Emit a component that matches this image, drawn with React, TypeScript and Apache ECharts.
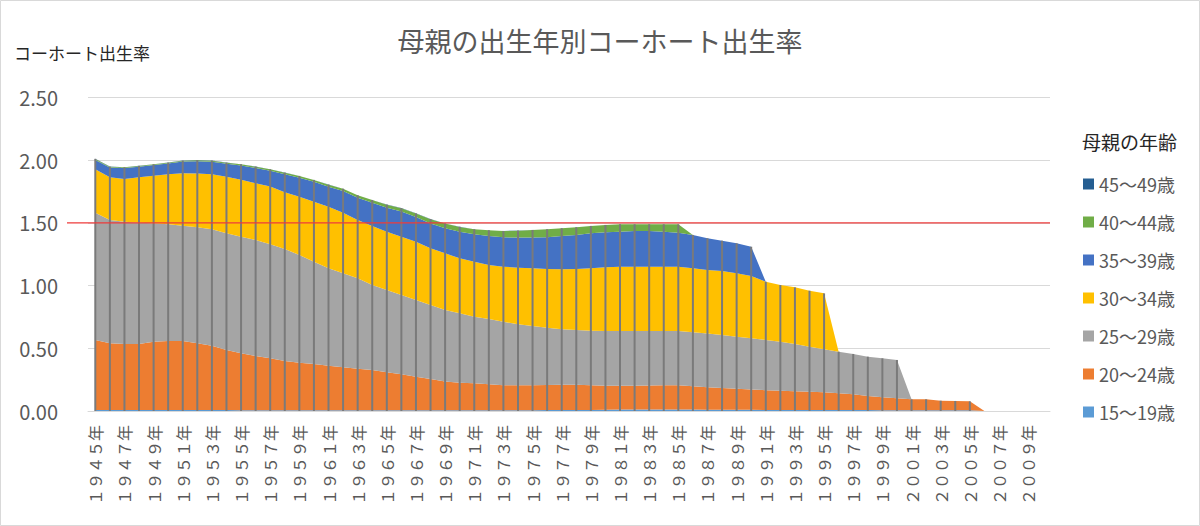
import React, { useEffect, useRef } from 'react';
import * as echarts from 'echarts';

const years = [
  '１９４５年', '１９４６年', '１９４７年', '１９４８年', '１９４９年', '１９５０年', '１９５１年', '１９５２年', '１９５３年', '１９５４年',
  '１９５５年', '１９５６年', '１９５７年', '１９５８年', '１９５９年', '１９６０年', '１９６１年', '１９６２年', '１９６３年', '１９６４年',
  '１９６５年', '１９６６年', '１９６７年', '１９６８年', '１９６９年', '１９７０年', '１９７１年', '１９７２年', '１９７３年', '１９７４年',
  '１９７５年', '１９７６年', '１９７７年', '１９７８年', '１９７９年', '１９８０年', '１９８１年', '１９８２年', '１９８３年', '１９８４年',
  '１９８５年', '１９８６年', '１９８７年', '１９８８年', '１９８９年', '１９９０年', '１９９１年', '１９９２年', '１９９３年', '１９９４年',
  '１９９５年', '１９９６年', '１９９７年', '１９９８年', '１９９９年', '２０００年', '２００１年', '２００２年', '２００３年', '２００４年',
  '２００５年', '２００６年', '２００７年', '２００８年', '２００９年', '２０１０年',
];

const age15_19 = [
  0.008, 0.008, 0.008, 0.008, 0.008, 0.008, 0.008, 0.007, 0.007, 0.007,
  0.006, 0.006, 0.006, 0.005, 0.005, 0.005, 0.005, 0.005, 0.005, 0.005,
  0.005, 0.005, 0.005, 0.005, 0.005, 0.005, 0.005, 0.005, 0.006, 0.006,
  0.006, 0.007, 0.008, 0.008, 0.008, 0.009, 0.012, 0.012, 0.012, 0.012,
  0.012, 0.011, 0.010, 0.010, 0.009, 0.009, 0.008, 0.008, 0.008, 0.008,
  0.008, 0.007, 0.007, 0.007, 0.006, 0.006, 0.005, 0.005, 0.005, 0.005,
  0.005, 0, null, null, null, null,
];

const age20_24 = [
  0.558, 0.532, 0.526, 0.526, 0.545, 0.550, 0.550, 0.533, 0.514, 0.479,
  0.454, 0.433, 0.414, 0.394, 0.380, 0.370, 0.356, 0.343, 0.332, 0.322,
  0.304, 0.288, 0.269, 0.250, 0.231, 0.221, 0.216, 0.208, 0.199, 0.199,
  0.199, 0.200, 0.202, 0.202, 0.198, 0.193, 0.190, 0.190, 0.192, 0.193,
  0.193, 0.187, 0.180, 0.173, 0.168, 0.162, 0.158, 0.154, 0.150, 0.146,
  0.141, 0.134, 0.126, 0.113, 0.103, 0.095, 0.088, 0.088, 0.077, 0.075,
  0.072, 0, null, null, null, null,
];

const age25_29 = [
  1.015, 0.983, 0.976, 0.968, 0.944, 0.931, 0.920, 0.925, 0.928, 0.931,
  0.930, 0.925, 0.909, 0.893, 0.859, 0.816, 0.777, 0.750, 0.721, 0.678,
  0.656, 0.632, 0.611, 0.590, 0.569, 0.553, 0.531, 0.521, 0.507, 0.486,
  0.473, 0.457, 0.441, 0.436, 0.434, 0.436, 0.436, 0.436, 0.434, 0.433,
  0.433, 0.429, 0.429, 0.423, 0.416, 0.409, 0.400, 0.391, 0.376, 0.359,
  0.343, 0.332, 0.322, 0.313, 0.311, 0.306, 0, 0, 0, 0,
  0, 0, null, null, null, null,
];

const age30_34 = [
  0.346, 0.341, 0.340, 0.362, 0.379, 0.398, 0.417, 0.428, 0.439, 0.451,
  0.455, 0.452, 0.461, 0.453, 0.465, 0.478, 0.491, 0.483, 0.465, 0.470,
  0.465, 0.465, 0.465, 0.452, 0.452, 0.439, 0.439, 0.430, 0.439, 0.452,
  0.460, 0.468, 0.479, 0.486, 0.498, 0.508, 0.513, 0.513, 0.513, 0.513,
  0.513, 0.511, 0.505, 0.510, 0.505, 0.497, 0.465, 0.452, 0.452, 0.446,
  0.446, 0, 0, 0, 0, 0, 0, 0, 0, 0,
  0, 0, null, null, null, null,
];

const age35_39 = [
  0.075, 0.078, 0.087, 0.084, 0.085, 0.087, 0.094, 0.099, 0.100, 0.104,
  0.112, 0.121, 0.125, 0.143, 0.151, 0.159, 0.160, 0.174, 0.177, 0.185,
  0.190, 0.200, 0.197, 0.198, 0.200, 0.212, 0.218, 0.232, 0.234, 0.240,
  0.245, 0.253, 0.266, 0.272, 0.279, 0.279, 0.279, 0.284, 0.284, 0.279,
  0.271, 0.266, 0.253, 0.242, 0.239, 0.233, 0, 0, 0, 0,
  0, 0, 0, 0, 0, 0, 0, 0, 0, 0,
  0, 0, null, null, null, null,
];

const age40_44 = [
  0.008, 0.006, 0.006, 0.006, 0.006, 0.006, 0.007, 0.008, 0.008, 0.008,
  0.010, 0.011, 0.012, 0.012, 0.014, 0.014, 0.016, 0.017, 0.020, 0.022,
  0.025, 0.027, 0.028, 0.035, 0.038, 0.038, 0.040, 0.045, 0.050, 0.055,
  0.060, 0.064, 0.061, 0.061, 0.058, 0.058, 0.059, 0.054, 0.054, 0.059,
  0.067, 0, 0, 0, 0, 0, 0, 0, 0, 0,
  0, 0, 0, 0, 0, 0, 0, 0, 0, 0,
  0, 0, null, null, null, null,
];

const age45_49 = [
  0.001, 0.001, 0.001, 0.001, 0.001, 0.001, 0.001, 0.001, 0.001, 0.001,
  0.001, 0.001, 0.001, 0.001, 0.001, 0.001, 0.001, 0.001, 0.001, 0.001,
  0.001, 0.001, 0.001, 0.001, 0.001, 0.001, 0.001, 0.001, 0.001, 0.001,
  0.001, 0.001, 0.001, 0.001, 0.001, 0.001, 0, 0, 0, 0,
  0, 0, 0, 0, 0, 0, 0, 0, 0, 0,
  0, 0, 0, 0, 0, 0, 0, 0, 0, 0,
  0, 0, null, null, null, null,
];

const seriesNames = ['15～19歳', '20～24歳', '25～29歳', '30～34歳', '35～39歳', '40～44歳', '45～49歳'];
const seriesValues = [age15_19, age20_24, age25_29, age30_34, age35_39, age40_44, age45_49];
const seriesColors = ['#5b9bd5', '#ed7d31', '#a5a5a5', '#ffc000', '#4472c4', '#70ad47', '#255e91'];
const referenceLevel = 1.5;

export default function App() {
  const ref = useRef<HTMLDivElement>(null);

  useEffect(() => {
    document.body.style.margin = '0';
    const chart = echarts.init(ref.current as HTMLDivElement, null, { renderer: 'svg' });
    const font = "'Noto Sans CJK JP', 'Noto Sans', sans-serif";

    const totals = years.map((_, i) => {
      if (seriesValues.some((arr) => arr[i] == null)) return null;
      const s = seriesValues.reduce((acc, arr) => acc + (arr[i] as number), 0);
      return s > 0 ? s : null;
    });

    const areaSeries = seriesNames.map((name, k) => ({
      name,
      type: 'line',
      stack: 'total',
      data: seriesValues[k],
      symbol: 'none',
      showSymbol: false,
      lineStyle: { width: 0 },
      areaStyle: { color: seriesColors[k], opacity: 1 },
      itemStyle: { color: seriesColors[k] },
      z: 2,
      silent: true,
    }));

    const option: any = {
      animation: false,
      textStyle: { fontFamily: font },
      title: [
        {
          text: '母親の出生年別コーホート出生率',
          left: 'center',
          top: 27,
          padding: 0,
          textStyle: { fontSize: 27, fontWeight: 'normal', color: '#595959', fontFamily: font },
        },
        {
          text: 'コーホート出生率',
          left: 14,
          top: 44,
          padding: 0,
          textStyle: { fontSize: 17, fontWeight: 'normal', color: '#262626', fontFamily: font },
        },
        {
          text: '母親の年齢',
          left: 1082,
          top: 132,
          padding: 0,
          textStyle: { fontSize: 19, fontWeight: 'normal', color: '#262626', fontFamily: font },
        },
      ],
      legend: {
        orient: 'vertical',
        left: 1083,
        top: 175,
        padding: 0,
        itemWidth: 11,
        itemHeight: 11,
        itemGap: 20,
        icon: 'rect',
        data: [...seriesNames].reverse(),
        textStyle: { fontSize: 18, color: '#595959', fontFamily: font },
      },
      grid: { left: 88, right: 150, top: 97.5, bottom: 115 },
      xAxis: {
        type: 'category',
        data: years,
        boundaryGap: true,
        axisLine: { lineStyle: { color: '#d9d9d9', width: 1 } },
        axisTick: { show: false },
        axisLabel: {
          interval: 1,
          rotate: 90,
          fontSize: 16,
          color: '#595959',
          margin: 14,
          fontFamily: font,
        },
      },
      yAxis: {
        type: 'value',
        min: 0,
        max: 2.5,
        interval: 0.5,
        axisLine: { show: false },
        axisTick: { show: false },
        axisLabel: {
          formatter: (v: number) => v.toFixed(2),
          fontSize: 20,
          color: '#595959',
          margin: 30,
          fontFamily: font,
        },
        splitLine: { lineStyle: { color: '#d9d9d9', width: 1 } },
      },
      series: [
        ...areaSeries,
        {
          name: 'drop',
          type: 'bar',
          data: totals,
          barWidth: 2,
          itemStyle: { color: '#7a7a7a' },
          z: 3,
          silent: true,
        },
      ],
    };

    chart.setOption(option);
    const yPix = chart.convertToPixel({ yAxisIndex: 0 }, referenceLevel) as number;
    chart.setOption({
      graphic: [
        {
          type: 'line',
          shape: { x1: 67, y1: yPix, x2: 1050, y2: yPix },
          style: { stroke: '#ee3b3b', lineWidth: 1.3 },
          z: 100,
          silent: true,
        },
        {
          type: 'rect',
          shape: { x: 0.5, y: 0.5, width: 1199, height: 525 },
          style: { fill: 'none', stroke: '#d9d9d9', lineWidth: 1 },
          z: 100,
          silent: true,
        },
      ],
    });

    return () => {
      chart.dispose();
    };
  }, []);

  return <div ref={ref} style={{ width: 1200, height: 526 }} />;
}
